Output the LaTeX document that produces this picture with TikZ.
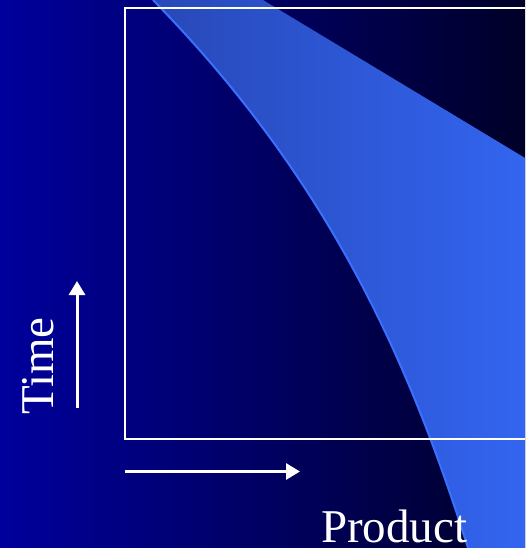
\documentclass[tikz,border=0pt]{standalone}
\usepackage{fontspec}
\setmainfont{Liberation Serif}
\usetikzlibrary{arrows.meta}
\definecolor{bgleft}{RGB}{0,0,156}
\definecolor{bgright}{RGB}{0,0,40}
\definecolor{bandleft}{RGB}{40,72,184}
\definecolor{bandright}{RGB}{51,102,242}
\definecolor{bandedge}{RGB}{58,112,255}
\tikzset{
  axisarrow/.style={white, line width=3pt, -{Triangle[length=14pt,width=16pt]}},
  label/.style={text=white, font=\fontsize{47}{50}\selectfont, inner sep=0pt},
}
\begin{document}
\begin{tikzpicture}[x=1pt,y=-1pt]
\useasboundingbox (0,0) rectangle (525,548);
\clip (0,0) rectangle (525,548);
\shade[left color=bgleft, right color=bgright] (0,0) rectangle (525,548);
% band
\shade[left color=bandleft, right color=bandright]
  (153,0) .. controls (332,183) and (410,365) .. (468,548)
  -- (540,548) -- (540,167) -- (263,0) -- cycle;
\draw[bandedge, line width=2pt] (153,0) .. controls (332,183) and (410,365) .. (468,548);
% frame
\draw[white, line width=2pt] (125,8) rectangle (540,439);
% arrows
\coordinate (t0) at (77,408);
\coordinate (t1) at (77,281);
\coordinate (p0) at (125,471.5);
\coordinate (p1) at (300,471.5);
\draw[axisarrow] (t0) -- (t1);
\draw[axisarrow] (p0) -- (p1);
% labels
\node[label, rotate=90, anchor=base west] (time) at (53,415) {Time};
\node[label, anchor=base west] (product) at (321,542) {Product};
\end{tikzpicture}
\end{document}
